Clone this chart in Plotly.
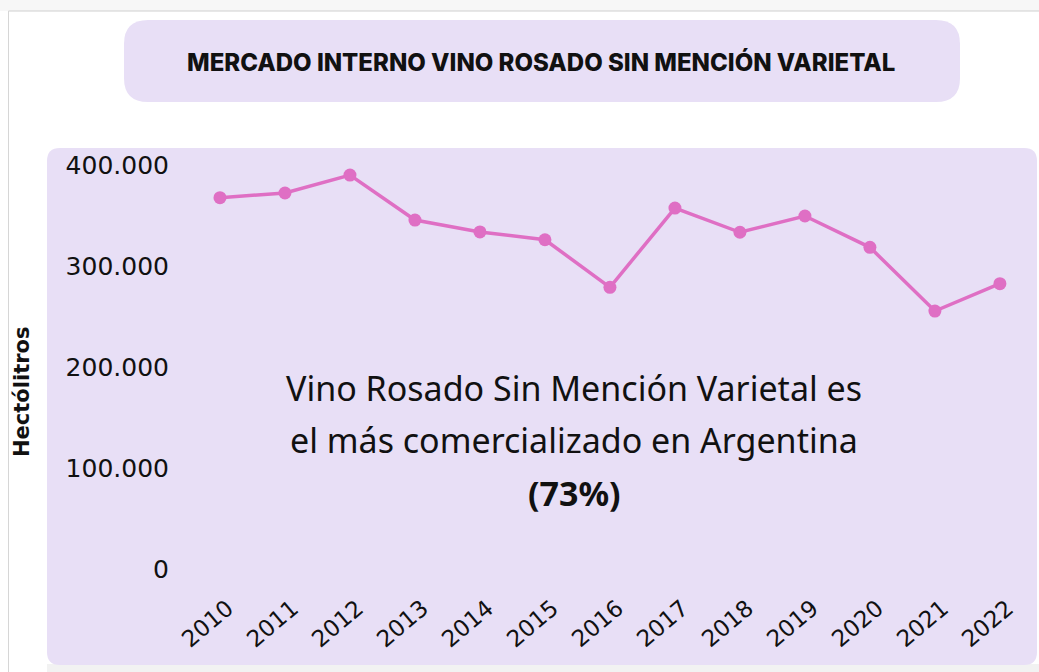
import plotly.graph_objects as go

years = [2010, 2011, 2012, 2013, 2014, 2015, 2016, 2017, 2018, 2019, 2020, 2021, 2022]
hectolitros = [367600, 372300, 390000, 345500, 333700, 326000, 278900, 357400, 333400, 349500, 318500, 255400, 282500]
y_ticks = [0, 100000, 200000, 300000, 400000]
y_tick_labels = ["0", "100.000", "200.000", "300.000", "400.000"]
x_tick_labels = [str(y) for y in years]

title_text = "MERCADO INTERNO VINO ROSADO SIN MENCIÓN VARIETAL"
note_lines = ["Vino Rosado Sin Mención Varietal es", "el más comercializado en Argentina", "<b>(73%)</b>"]

W, H = 1039, 672
# plot area in page pixels
L, R, T, B = 170, 1035, 165, 569

def fx(x):
    return (x - L) / (R - L)

def fy(y):
    return (B - y) / (B - T)

def rounded(x0, y0, x1, y1, r):
    pts = [("M", [(x0 + r, y0)]), ("L", [(x1 - r, y0)]), ("Q", [(x1, y0), (x1, y0 + r)]),
           ("L", [(x1, y1 - r)]), ("Q", [(x1, y1), (x1 - r, y1)]), ("L", [(x0 + r, y1)]),
           ("Q", [(x0, y1), (x0, y1 - r)]), ("L", [(x0, y0 + r)]), ("Q", [(x0, y0), (x0 + r, y0)])]
    s = ""
    for cmd, ps in pts:
        s += cmd + " " + " ".join(f"{fx(a):.5f},{fy(b):.5f}" for a, b in ps) + " "
    return s + "Z"

lav = "#E8DFF6"
pink = "#DF6FC4"

fig = go.Figure()
fig.add_trace(go.Scatter(
    x=years, y=hectolitros, mode="lines+markers",
    line=dict(color=pink, width=3.5),
    marker=dict(color=pink, size=13),
    cliponaxis=False, hoverinfo="x+y", showlegend=False,
))

shapes = [
    dict(type="rect", xref="paper", yref="paper", x0=fx(0), x1=fx(W), y0=fy(0), y1=fy(11),
         fillcolor="#F7F7F7", line=dict(width=0), layer="below"),
    dict(type="line", xref="paper", yref="paper", x0=fx(8.5), x1=fx(W), y0=fy(11), y1=fy(11),
         line=dict(color="#CFCFCF", width=1), layer="below"),
    dict(type="line", xref="paper", yref="paper", x0=fx(8.5), x1=fx(8.5), y0=fy(11), y1=fy(H),
         line=dict(color="#D6D6D6", width=1), layer="below"),
    dict(type="rect", xref="paper", yref="paper", x0=fx(47), x1=fx(W), y0=fy(664), y1=fy(H),
         fillcolor="#F2F2F2", line=dict(width=0), layer="below"),
    dict(type="path", xref="paper", yref="paper", path=rounded(124, 20, 960, 102, 24),
         fillcolor=lav, line=dict(width=0), layer="below"),
    dict(type="path", xref="paper", yref="paper", path=rounded(47, 148, 1037, 665, 13),
         fillcolor=lav, line=dict(width=0), layer="below"),
]

annotations = [
    dict(text=title_text, xref="paper", yref="paper", x=fx(541), y=fy(62),
         showarrow=False, xanchor="center", yanchor="middle",
         font=dict(family="Inter", size=24, color="#111111", weight=800)),
    dict(text="<b>Hectólitros</b>", xref="paper", yref="paper", x=fx(22), y=fy(392), textangle=-90,
         showarrow=False, xanchor="center", yanchor="middle",
         font=dict(family="DejaVu Sans", size=21, color="#111111")),
]
for line_txt, ypx in zip(note_lines, [388, 440, 493]):
    annotations.append(dict(text=line_txt, xref="paper", yref="paper", x=fx(574), y=fy(ypx),
                            showarrow=False, xanchor="center", yanchor="middle",
                            font=dict(family="Noto Sans", size=34, color="#111111")))
# x tick labels (rotated) placed on the x axis scale
for yr, lab in zip(years, x_tick_labels):
    annotations.append(dict(text=lab, xref="x", yref="paper", x=yr, y=fy(623), xshift=-12,
                            textangle=-40, showarrow=False, xanchor="center", yanchor="middle",
                            font=dict(family="DejaVu Sans", size=23, color="#111111")))

fig.update_layout(
    width=W, height=H,
    margin=dict(l=L, r=W - R, t=T, b=H - B, pad=0),
    paper_bgcolor="white", plot_bgcolor="rgba(0,0,0,0)",
    shapes=shapes, annotations=annotations,
    xaxis=dict(range=[2009.231, 2022.54], tickmode="array", tickvals=years,
               showticklabels=False, showgrid=False,
               zeroline=False, showline=False, ticks=""),
    yaxis=dict(range=[0, 400000], tickmode="array", tickvals=y_ticks, ticktext=y_tick_labels,
               showgrid=False, zeroline=False, showline=False, ticks="",
               tickfont=dict(family="DejaVu Sans", size=25, color="#111111")),
    font=dict(family="DejaVu Sans"),
)

fig.write_html("out.html", config={"displayModeBar": False},
               post_script="document.body.style.margin='0';document.body.style.overflow='hidden';")
